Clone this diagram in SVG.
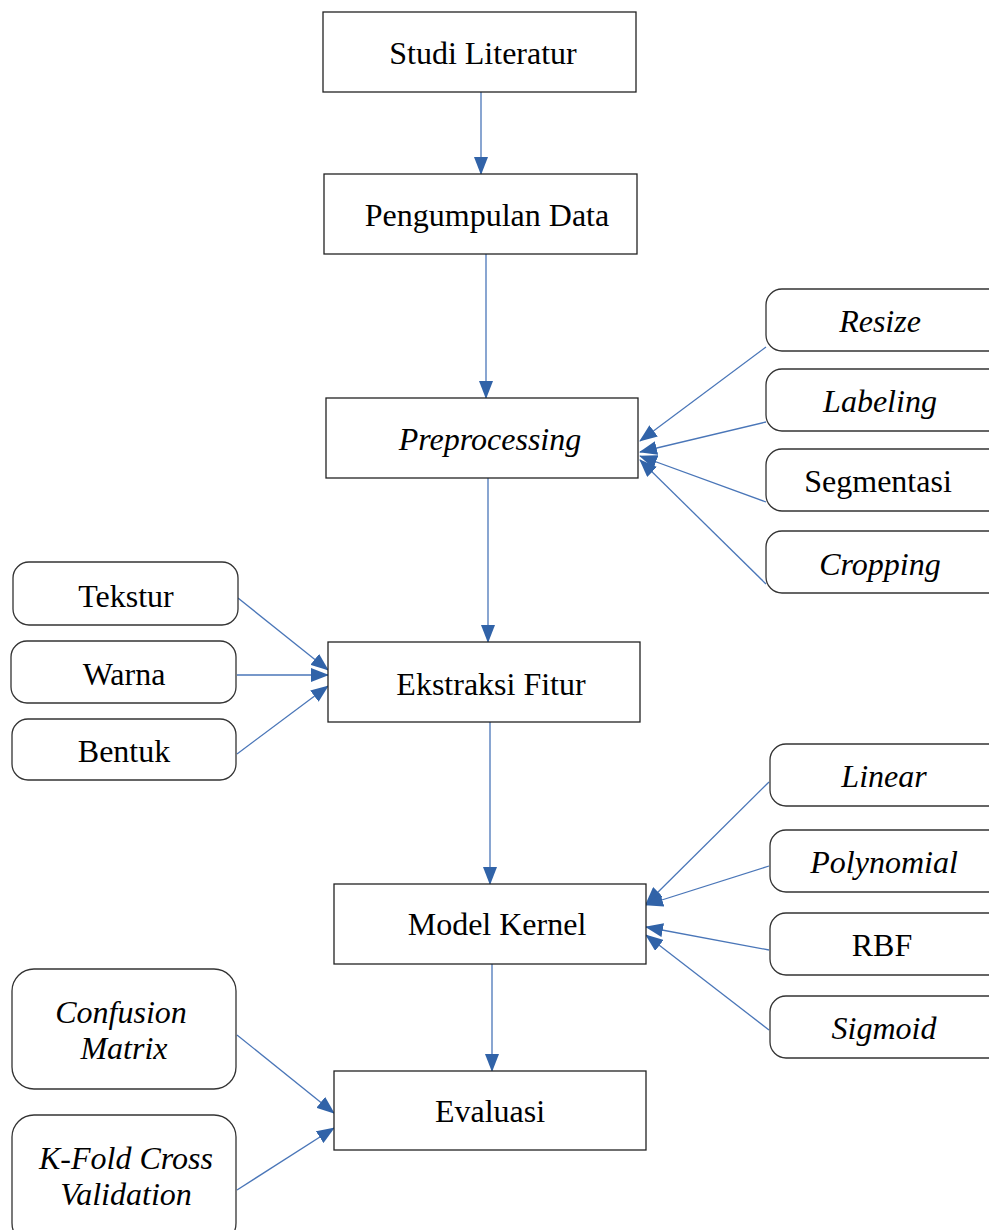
<svg xmlns="http://www.w3.org/2000/svg" width="989" height="1230" viewBox="0 0 989 1230">
<defs>
<marker id="ah" markerUnits="userSpaceOnUse" markerWidth="18" markerHeight="14" refX="17" refY="7" orient="auto">
<path d="M0,0 L18,7 L0,14 z" fill="#3163a8"/>
</marker>
</defs>
<style>
.box{fill:#fff;stroke:#222;stroke-width:1.3}
.rnd{fill:#fff;stroke:#333;stroke-width:1.3}
text{font-family:"Liberation Serif","Times New Roman",serif;font-size:32px;fill:#000;text-anchor:middle}
.it{font-style:italic}
.c{fill:none;stroke:#4a76b8;stroke-width:1.3;marker-end:url(#ah)}
</style>
<rect width="989" height="1230" fill="#fff"/>
<g id="connectors">
<line class="c" x1="481" y1="92" x2="481" y2="174"/>
<line class="c" x1="486" y1="254" x2="486" y2="398"/>
<line class="c" x1="488" y1="478" x2="488" y2="642"/>
<line class="c" x1="490" y1="722" x2="490" y2="884"/>
<line class="c" x1="492" y1="964" x2="492" y2="1071"/>
<line class="c" x1="766" y1="347" x2="640" y2="441"/>
<line class="c" x1="766" y1="422" x2="640" y2="452"/>
<line class="c" x1="766" y1="502" x2="640" y2="456"/>
<line class="c" x1="766" y1="584" x2="640" y2="460"/>
<line class="c" x1="238" y1="598" x2="328" y2="670"/>
<line class="c" x1="237" y1="675" x2="328" y2="675"/>
<line class="c" x1="237" y1="754" x2="328" y2="686"/>
<line class="c" x1="769" y1="782" x2="646" y2="904"/>
<line class="c" x1="769" y1="866" x2="646" y2="905"/>
<line class="c" x1="769" y1="950" x2="646" y2="927"/>
<line class="c" x1="769" y1="1030" x2="646" y2="935"/>
<line class="c" x1="237" y1="1035" x2="334" y2="1113"/>
<line class="c" x1="237" y1="1190" x2="334" y2="1128"/>
</g>
<g id="studi"><rect class="box" x="323" y="12" width="313" height="80"/><text x="483" y="64">Studi Literatur</text></g>
<g id="pengumpulan"><rect class="box" x="324" y="174" width="313" height="80"/><text x="487" y="226">Pengumpulan Data</text></g>
<g id="preprocessing"><rect class="box" x="326" y="398" width="312" height="80"/><text class="it" x="490" y="450">Preprocessing</text></g>
<g id="ekstraksi"><rect class="box" x="328" y="642" width="312" height="80"/><text x="491" y="695">Ekstraksi Fitur</text></g>
<g id="model"><rect class="box" x="334" y="884" width="312" height="80"/><text x="497" y="935">Model Kernel</text></g>
<g id="evaluasi"><rect class="box" x="334" y="1071" width="312" height="79"/><text x="490" y="1122">Evaluasi</text></g>
<g id="resize"><rect class="rnd" x="766" y="289" width="240" height="62" rx="16"/><text class="it" x="880" y="332">Resize</text></g>
<g id="labeling"><rect class="rnd" x="766" y="369" width="240" height="62" rx="16"/><text class="it" x="880" y="412">Labeling</text></g>
<g id="segmentasi"><rect class="rnd" x="766" y="449" width="240" height="62" rx="16"/><text x="878" y="492">Segmentasi</text></g>
<g id="cropping"><rect class="rnd" x="766" y="531" width="240" height="62" rx="16"/><text class="it" x="880" y="575">Cropping</text></g>
<g id="tekstur"><rect class="rnd" x="13" y="562" width="225" height="63" rx="16"/><text x="126" y="607">Tekstur</text></g>
<g id="warna"><rect class="rnd" x="11" y="641" width="225" height="62" rx="16"/><text x="124" y="685">Warna</text></g>
<g id="bentuk"><rect class="rnd" x="12" y="719" width="224" height="61" rx="16"/><text x="124" y="762">Bentuk</text></g>
<g id="linear"><rect class="rnd" x="770" y="744" width="240" height="62" rx="16"/><text class="it" x="884" y="787">Linear</text></g>
<g id="polynomial"><rect class="rnd" x="770" y="830" width="240" height="62" rx="16"/><text class="it" x="884" y="873">Polynomial</text></g>
<g id="rbf"><rect class="rnd" x="770" y="913" width="240" height="62" rx="16"/><text x="882" y="956">RBF</text></g>
<g id="sigmoid"><rect class="rnd" x="770" y="996" width="240" height="62" rx="16"/><text class="it" x="884" y="1039">Sigmoid</text></g>
<g id="confusion"><rect class="rnd" x="12" y="969" width="224" height="120" rx="22"/><text class="it" x="121" y="1023">Confusion</text><text class="it" x="124" y="1059">Matrix</text></g>
<g id="kfold"><rect class="rnd" x="12" y="1115" width="224" height="130" rx="22"/><text class="it" x="126" y="1169">K-Fold Cross</text><text class="it" x="126" y="1205">Validation</text></g>
</svg>
